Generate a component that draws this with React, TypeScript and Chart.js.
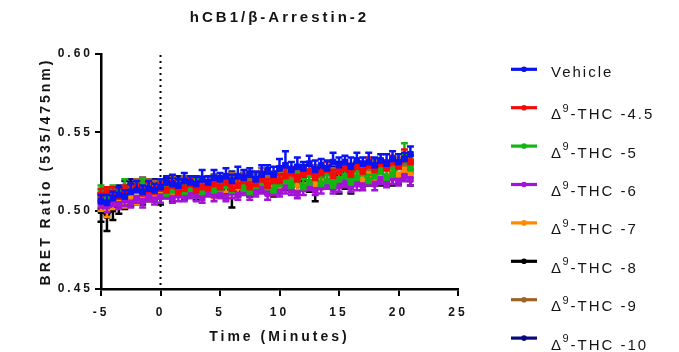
import { useEffect, useRef } from "react";
import { Chart, registerables } from "chart.js";

Chart.register(...registerables);

const TITLE = "hCB1/β-Arrestin-2";
const X_TITLE = "Time (Minutes)";
const Y_TITLE = "BRET Ratio (535/475nm)";
const X_TICKS = [-5, 0, 5, 10, 15, 20, 25];
const Y_TICKS = [0.45, 0.5, 0.55, 0.6];
const DRUG_TIME = 0;

const TIMES = [
  -5, -4.5, -4, -3.5, -3, -2.5, -2, -1.5, -1, -0.5,
  0, 0.5, 1, 1.5, 2, 2.5, 3, 3.5, 4, 4.5,
  5, 5.5, 6, 6.5, 7, 7.5, 8, 8.5, 9, 9.5,
  10, 10.5, 11, 11.5, 12, 12.5, 13, 13.5, 14, 14.5,
  15, 15.5, 16, 16.5, 17, 17.5, 18, 18.5, 19, 19.5,
  20, 20.5, 21,
];

const LABELS = [
  "Vehicle",
  "Δ⁹-THC -4.5",
  "Δ⁹-THC -5",
  "Δ⁹-THC -6",
  "Δ⁹-THC -7",
  "Δ⁹-THC -8",
  "Δ⁹-THC -9",
  "Δ⁹-THC -10",
];
const COLORS = ["#0a14f0", "#f50a0a", "#14b414", "#a314d6", "#ff8a00", "#000000", "#9c6428", "#0a0a80"];
const ERR_DIR = [1, 1, 1, -1, -1, -1, 1, 1];

const VEHICLE = [
  0.506, 0.505, 0.508, 0.510, 0.509, 0.512, 0.513, 0.512, 0.514, 0.513,
  0.515, 0.518, 0.517, 0.516, 0.519, 0.518, 0.517, 0.520, 0.518, 0.521,
  0.520, 0.522, 0.519, 0.522, 0.521, 0.523, 0.520, 0.523, 0.525, 0.523,
  0.527, 0.529, 0.526, 0.528, 0.527, 0.530, 0.526, 0.529, 0.527, 0.531,
  0.529, 0.531, 0.528, 0.532, 0.530, 0.531, 0.529, 0.532, 0.530, 0.533,
  0.531, 0.533, 0.536,
];
const VEHICLE_ERR = [
  0.004, 0.005, 0.004, 0.005, 0.004, 0.005, 0.006, 0.004, 0.005, 0.004,
  0.005, 0.004, 0.006, 0.004, 0.005, 0.004, 0.005, 0.006, 0.004, 0.005,
  0.004, 0.005, 0.004, 0.006, 0.005, 0.004, 0.005, 0.006, 0.004, 0.005,
  0.006, 0.009, 0.005, 0.006, 0.004, 0.005, 0.006, 0.004, 0.005, 0.006,
  0.005, 0.004, 0.006, 0.005, 0.004, 0.006, 0.005, 0.004, 0.006, 0.005,
  0.005, 0.004, 0.005,
];

const THC_45 = [
  0.510, 0.512, 0.511, 0.509, 0.513, 0.512, 0.514, 0.511, 0.513, 0.512,
  0.514, 0.513, 0.516, 0.512, 0.514, 0.517, 0.513, 0.515, 0.514, 0.517,
  0.515, 0.518, 0.514, 0.516, 0.519, 0.515, 0.517, 0.520, 0.516, 0.519,
  0.519, 0.522, 0.524, 0.520, 0.523, 0.525, 0.521, 0.524, 0.526, 0.522,
  0.525, 0.527, 0.523, 0.528, 0.525, 0.529, 0.526, 0.530, 0.527, 0.531,
  0.528, 0.533, 0.531,
];
const THC_45_ERR = [
  0.004, 0.003, 0.004, 0.005, 0.003, 0.004, 0.003, 0.004, 0.005, 0.003,
  0.004, 0.005, 0.003, 0.004, 0.004, 0.003, 0.005, 0.004, 0.003, 0.004,
  0.005, 0.004, 0.003, 0.005, 0.004, 0.003, 0.004, 0.005, 0.004, 0.003,
  0.004, 0.005, 0.004, 0.003, 0.005, 0.004, 0.003, 0.004, 0.005, 0.004,
  0.003, 0.005, 0.004, 0.003, 0.004, 0.005, 0.004, 0.003, 0.005, 0.004,
  0.003, 0.006, 0.004,
];

const THC_5 = [
  0.512, 0.509, 0.513, 0.511, 0.515, 0.512, 0.514, 0.516, 0.513, 0.512,
  0.514, 0.511, 0.513, 0.515, 0.512, 0.514, 0.516, 0.512, 0.515, 0.513,
  0.514, 0.516, 0.513, 0.517, 0.514, 0.512, 0.516, 0.518, 0.515, 0.513,
  0.517, 0.519, 0.516, 0.520, 0.515, 0.518, 0.521, 0.517, 0.519, 0.516,
  0.520, 0.522, 0.518, 0.521, 0.524, 0.519, 0.522, 0.525, 0.521, 0.523,
  0.528, 0.534, 0.527,
];
const THC_5_ERR = [
  0.004, 0.005, 0.003, 0.004, 0.005, 0.004, 0.003, 0.004, 0.005, 0.004,
  0.003, 0.004, 0.005, 0.003, 0.004, 0.005, 0.004, 0.003, 0.004, 0.005,
  0.004, 0.003, 0.005, 0.004, 0.003, 0.004, 0.005, 0.004, 0.003, 0.004,
  0.005, 0.004, 0.003, 0.004, 0.005, 0.004, 0.003, 0.005, 0.004, 0.003,
  0.004, 0.005, 0.003, 0.004, 0.005, 0.004, 0.003, 0.004, 0.005, 0.004,
  0.004, 0.009, 0.004,
];

const THC_6 = [
  0.505, 0.503, 0.506, 0.504, 0.507, 0.505, 0.508, 0.506, 0.509, 0.507,
  0.509, 0.511, 0.508, 0.510, 0.509, 0.511, 0.510, 0.508, 0.512, 0.510,
  0.511, 0.509, 0.512, 0.510, 0.513, 0.511, 0.512, 0.514, 0.511, 0.513,
  0.512, 0.515, 0.513, 0.511, 0.514, 0.516, 0.513, 0.515, 0.517, 0.514,
  0.516, 0.518, 0.515, 0.517, 0.516, 0.519, 0.517, 0.520, 0.518, 0.521,
  0.519, 0.522, 0.520,
];
const THC_6_ERR = [
  0.003, 0.004, 0.003, 0.003, 0.004, 0.003, 0.003, 0.004, 0.003, 0.003,
  0.004, 0.003, 0.003, 0.004, 0.003, 0.003, 0.004, 0.003, 0.003, 0.004,
  0.003, 0.003, 0.004, 0.003, 0.003, 0.004, 0.003, 0.003, 0.004, 0.003,
  0.003, 0.004, 0.003, 0.003, 0.004, 0.003, 0.003, 0.004, 0.003, 0.003,
  0.004, 0.003, 0.003, 0.004, 0.003, 0.003, 0.004, 0.003, 0.003, 0.004,
  0.003, 0.003, 0.004,
];

const THC_7 = [
  0.504, 0.501, 0.505, 0.507, 0.506, 0.509, 0.508, 0.511, 0.510, 0.512,
  0.511, 0.513, 0.512, 0.514, 0.513, 0.515, 0.512, 0.514, 0.513, 0.512,
  0.514, 0.516, 0.513, 0.515, 0.514, 0.516, 0.513, 0.517, 0.515, 0.514,
  0.516, 0.518, 0.515, 0.517, 0.516, 0.518, 0.517, 0.519, 0.517, 0.520,
  0.518, 0.521, 0.519, 0.522, 0.520, 0.523, 0.521, 0.524, 0.522, 0.525,
  0.523, 0.526, 0.524,
];
const THC_7_ERR = [
  0.004, 0.005, 0.004, 0.003, 0.004, 0.003, 0.004, 0.003, 0.004, 0.003,
  0.003, 0.004, 0.003, 0.004, 0.003, 0.004, 0.003, 0.004, 0.003, 0.004,
  0.003, 0.004, 0.003, 0.004, 0.003, 0.004, 0.003, 0.004, 0.003, 0.004,
  0.003, 0.004, 0.003, 0.004, 0.003, 0.004, 0.003, 0.004, 0.003, 0.004,
  0.003, 0.004, 0.003, 0.004, 0.003, 0.004, 0.003, 0.004, 0.003, 0.004,
  0.003, 0.004, 0.003,
];

const THC_8 = [
  0.500, 0.497, 0.501, 0.503, 0.505, 0.506, 0.508, 0.509, 0.510, 0.511,
  0.510, 0.512, 0.511, 0.513, 0.512, 0.514, 0.512, 0.513, 0.515, 0.513,
  0.514, 0.512, 0.513, 0.514, 0.516, 0.514, 0.515, 0.517, 0.515, 0.514,
  0.516, 0.518, 0.516, 0.517, 0.519, 0.517, 0.518, 0.520, 0.518, 0.519,
  0.521, 0.519, 0.520, 0.522, 0.520, 0.521, 0.523, 0.521, 0.522, 0.524,
  0.522, 0.523, 0.525,
];
const THC_8_ERR = [
  0.007, 0.010, 0.007, 0.005, 0.004, 0.003, 0.004, 0.005, 0.004, 0.005,
  0.006, 0.004, 0.005, 0.004, 0.005, 0.004, 0.005, 0.004, 0.005, 0.004,
  0.005, 0.004, 0.011, 0.005, 0.004, 0.005, 0.004, 0.005, 0.004, 0.005,
  0.004, 0.005, 0.004, 0.005, 0.004, 0.005, 0.012, 0.005, 0.004, 0.005,
  0.010, 0.005, 0.009, 0.005, 0.004, 0.005, 0.004, 0.005, 0.004, 0.008,
  0.005, 0.004, 0.009,
];

const THC_9 = [
  0.508, 0.510, 0.509, 0.512, 0.511, 0.514, 0.516, 0.518, 0.517, 0.515,
  0.517, 0.516, 0.518, 0.517, 0.519, 0.518, 0.516, 0.519, 0.518, 0.520,
  0.517, 0.519, 0.521, 0.518, 0.520, 0.519, 0.521, 0.523, 0.520, 0.522,
  0.521, 0.523, 0.522, 0.524, 0.521, 0.523, 0.525, 0.522, 0.524, 0.523,
  0.525, 0.527, 0.524, 0.526, 0.525, 0.527, 0.529, 0.526, 0.528, 0.527,
  0.531, 0.528, 0.530,
];
const THC_9_ERR = [
  0.003, 0.004, 0.003, 0.003, 0.004, 0.003, 0.004, 0.003, 0.003, 0.004,
  0.003, 0.003, 0.004, 0.003, 0.003, 0.004, 0.003, 0.003, 0.004, 0.003,
  0.003, 0.004, 0.003, 0.003, 0.004, 0.003, 0.003, 0.004, 0.003, 0.003,
  0.004, 0.003, 0.003, 0.004, 0.003, 0.003, 0.004, 0.003, 0.003, 0.004,
  0.003, 0.003, 0.004, 0.003, 0.003, 0.004, 0.003, 0.003, 0.004, 0.003,
  0.003, 0.004, 0.003,
];

const THC_10 = [
  0.507, 0.509, 0.511, 0.513, 0.515, 0.517, 0.516, 0.518, 0.515, 0.517,
  0.516, 0.518, 0.517, 0.519, 0.516, 0.518, 0.517, 0.519, 0.518, 0.520,
  0.518, 0.519, 0.521, 0.519, 0.520, 0.522, 0.520, 0.521, 0.523, 0.521,
  0.522, 0.524, 0.522, 0.523, 0.525, 0.523, 0.524, 0.526, 0.524, 0.525,
  0.527, 0.525, 0.526, 0.528, 0.526, 0.527, 0.529, 0.527, 0.528, 0.530,
  0.528, 0.529, 0.531,
];
const THC_10_ERR = [
  0.004, 0.003, 0.004, 0.003, 0.004, 0.003, 0.004, 0.003, 0.004, 0.003,
  0.004, 0.003, 0.004, 0.003, 0.004, 0.003, 0.004, 0.003, 0.004, 0.003,
  0.004, 0.003, 0.004, 0.003, 0.004, 0.003, 0.004, 0.003, 0.004, 0.003,
  0.004, 0.003, 0.004, 0.003, 0.004, 0.003, 0.004, 0.003, 0.004, 0.003,
  0.004, 0.003, 0.004, 0.003, 0.004, 0.003, 0.004, 0.003, 0.004, 0.003,
  0.004, 0.003, 0.004,
];

const SERIES = [VEHICLE, THC_45, THC_5, THC_6, THC_7, THC_8, THC_9, THC_10];
const ERRORS = [VEHICLE_ERR, THC_45_ERR, THC_5_ERR, THC_6_ERR, THC_7_ERR, THC_8_ERR, THC_9_ERR, THC_10_ERR];

const FONT = '"Liberation Sans", Arial, Helvetica, sans-serif';
const TEXT = "#141414";

const letterSpacingPlugin = {
  id: "letterSpacing",
  beforeUpdate(chart: any) {
    chart.ctx.letterSpacing = "3px";
  },
  beforeDraw(chart: any) {
    chart.ctx.letterSpacing = "3px";
  },
};

const drugLinePlugin = {
  id: "drugLine",
  beforeDatasetsDraw(chart: any) {
    const ctx = chart.ctx;
    const x = chart.scales.x.getPixelForValue(DRUG_TIME);
    const { top, bottom } = chart.chartArea;
    ctx.save();
    ctx.setLineDash([2, 4]);
    ctx.lineWidth = 2;
    ctx.strokeStyle = "#000";
    ctx.beginPath();
    ctx.moveTo(x, top + 1);
    ctx.lineTo(x, bottom);
    ctx.stroke();
    ctx.restore();
  },
};

const errorBarPlugin = {
  id: "errorBars",
  beforeDatasetDraw(chart: any, args: any) {
    const ds: any = chart.data.datasets[args.index];
    const meta = args.meta;
    const ys = chart.scales.y;
    const ctx = chart.ctx;
    ctx.save();
    ctx.strokeStyle = ds.borderColor;
    ctx.lineWidth = 2.5;
    meta.data.forEach((pt: any, i: number) => {
      const v = ds.data[i].y;
      const e = ds.errors[i];
      const y2 = ys.getPixelForValue(v + ds.errDir * e);
      ctx.beginPath();
      ctx.moveTo(pt.x, pt.y);
      ctx.lineTo(pt.x, y2);
      ctx.moveTo(pt.x - 3.5, y2);
      ctx.lineTo(pt.x + 3.5, y2);
      ctx.stroke();
    });
    ctx.restore();
  },
};

const legendPlugin = {
  id: "customLegend",
  afterDraw(chart: any) {
    const ctx = chart.ctx;
    const top = 69.3;
    const step = 38.4;
    ctx.save();
    chart.data.datasets.forEach((ds: any, i: number) => {
      const y = top + i * step;
      ctx.letterSpacing = "0px";
      ctx.strokeStyle = ds.borderColor;
      ctx.lineWidth = 3.2;
      ctx.beginPath();
      ctx.moveTo(511, y);
      ctx.lineTo(537, y);
      ctx.stroke();
      ctx.fillStyle = ds.borderColor;
      ctx.beginPath();
      ctx.arc(524, y, 2.8, 0, Math.PI * 2);
      ctx.fill();
      ctx.fillStyle = TEXT;
      ctx.textBaseline = "alphabetic";
      ctx.textAlign = "left";
      ctx.letterSpacing = "2px";
      const label: string = ds.label;
      const sup = label.indexOf("⁹");
      if (sup >= 0) {
        const before = label.slice(0, sup);
        const after = label.slice(sup + 1);
        ctx.font = `15px ${FONT}`;
        ctx.fillText(before, 551, y + 11.4);
        ctx.font = `11px ${FONT}`;
        ctx.fillText("9", 562.5, y + 4);
        ctx.font = `15px ${FONT}`;
        ctx.fillText(after, 570.5, y + 11.4);
      } else {
        ctx.font = `15px ${FONT}`;
        ctx.fillText(label, 551, y + 7.4);
      }
    });
    ctx.restore();
  },
};

export default function App() {
  const ref = useRef<HTMLCanvasElement | null>(null);

  useEffect(() => {
    if (!ref.current) return;
    const datasets = SERIES.map((vals, s) => ({
      label: LABELS[s],
      data: TIMES.map((t, i) => ({ x: t, y: vals[i] })),
      errors: ERRORS[s],
      errDir: ERR_DIR[s],
      borderColor: COLORS[s],
      backgroundColor: COLORS[s],
      borderWidth: 3,
      pointStyle: "rect",
      pointRadius: 4,
      pointBorderWidth: 1,
      pointBackgroundColor: COLORS[s],
      pointBorderColor: COLORS[s],
      tension: 0,
      fill: false,
      clip: false,
    }));

    const chart = new Chart(ref.current, {
      type: "line",
      data: { datasets: datasets as any },
      plugins: [letterSpacingPlugin, drugLinePlugin, errorBarPlugin, legendPlugin],
      options: {
        animation: false,
        responsive: false,
        events: [],
        layout: { padding: { left: 0, right: 221, top: 0, bottom: 0 } },
        plugins: {
          legend: { display: false },
          tooltip: { enabled: false },
          title: {
            display: true,
            text: TITLE,
            fullSize: false,
            color: TEXT,
            font: { family: FONT, size: 15, weight: "bold" },
            padding: { top: 8.5, bottom: 27.5 },
          },
        },
        scales: {
          x: {
            type: "linear",
            min: -5,
            max: 25,
            afterBuildTicks: (s: any) => {
              s.ticks = X_TICKS.map((v) => ({ value: v }));
            },
            afterFit: (s: any) => {
              s.height = 63;
            },
            grid: {
              display: true,
              drawOnChartArea: false,
              drawTicks: true,
              tickLength: 7,
              color: "#000",
              lineWidth: 2,
            },
            border: { display: true, color: "#000", width: 2.5 },
            ticks: {
              color: TEXT,
              font: { family: FONT, size: 12, weight: "bold" },
              padding: 9,
              maxRotation: 0,
              autoSkip: false,
            },
            title: {
              display: true,
              text: X_TITLE,
              color: TEXT,
              font: { family: FONT, size: 14, weight: "bold" },
              padding: { top: 0, bottom: 6 },
            },
          },
          y: {
            type: "linear",
            min: 0.45,
            max: 0.6,
            afterBuildTicks: (s: any) => {
              s.ticks = Y_TICKS.map((v) => ({ value: v }));
            },
            afterFit: (s: any) => {
              s.width = 101;
            },
            grid: {
              display: true,
              drawOnChartArea: false,
              drawTicks: true,
              tickLength: 6,
              color: "#000",
              lineWidth: 2,
            },
            border: { display: true, color: "#000", width: 2.5 },
            ticks: {
              color: TEXT,
              font: { family: FONT, size: 12, weight: "bold" },
              padding: 2,
              callback: (v: any) => Number(v).toFixed(2),
            },
            title: {
              display: true,
              text: Y_TITLE,
              color: TEXT,
              font: { family: FONT, size: 14, weight: "bold" },
              padding: { top: 38, bottom: 0 },
            },
          },
        },
      } as any,
    });
    return () => chart.destroy();
  }, []);

  return (
    <div style={{ position: "absolute", left: 0, top: 0, width: 679, height: 352, background: "#fff" }}>
      <canvas ref={ref} width={679} height={352} style={{ display: "block" }} />
    </div>
  );
}
